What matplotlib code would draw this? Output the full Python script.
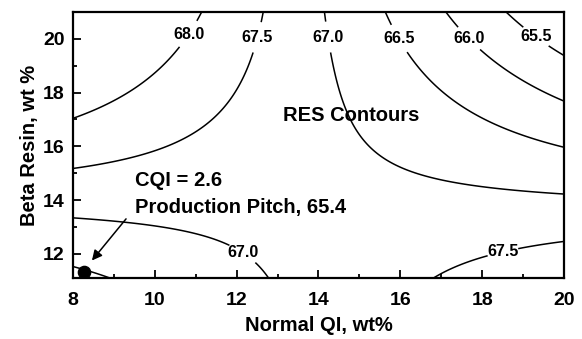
import numpy as np
import matplotlib
matplotlib.use("Agg")
import matplotlib.pyplot as plt
from matplotlib.ticker import MultipleLocator

plt.rcParams["font.family"] = ["Liberation Sans", "DejaVu Sans"]
plt.rcParams["font.weight"] = "bold"
plt.rcParams["axes.labelweight"] = "bold"

# RES response surface (quadratic), centred at QI = 14 wt%, beta resin = 16 wt%
# terms: 1, dQI, dBR, dQI^2, dBR^2, dQI*dBR
qi_center = 14.0
br_center = 16.0
res_coef = [67.1281, -0.10264, -0.01049, -0.00062, -0.00108, -0.04645]

res_levels = [65.5, 66.0, 66.5, 67.0, 67.5, 68.0]

# production pitch operating point
prod_qi = 8.27
prod_br = 11.34
prod_cqi = 2.6
prod_res = 65.4

qi = np.linspace(8, 20, 300)
br = np.linspace(11.1, 21.0, 300)
QI, BR = np.meshgrid(qi, br)
dq = QI - qi_center
db = BR - br_center
RES = (res_coef[0] + res_coef[1] * dq + res_coef[2] * db
       + res_coef[3] * dq ** 2 + res_coef[4] * db ** 2 + res_coef[5] * dq * db)

fig = plt.figure(figsize=(5.82, 3.39), dpi=100)
ax = fig.add_axes([0.1254, 0.18, 0.9691 - 0.1254, 0.9646 - 0.18])

cs = ax.contour(QI, BR, RES, levels=res_levels, colors="black", linewidths=1.1)
label_pos = [(11.1, 19.9), (12.52, 20.05), (14.16, 20.05), (15.9, 19.95),
             (17.6, 19.9), (19.2, 19.85), (12.16, 12.04), (18.51, 12.04)]
labels = ax.clabel(cs, fmt="%.1f", fontsize=11.5, inline=True, inline_spacing=0,
                   manual=label_pos)
for t in labels:
    t.set_rotation(0)

ax.plot(prod_qi, prod_br, "o", color="black", ms=8.8)
ax.annotate("", xy=(8.42, 11.67), xytext=(9.34, 13.38),
            arrowprops=dict(arrowstyle="-|>", color="black", lw=1.1,
                            mutation_scale=15))
ax.text(9.52, 14.72, f"CQI = {prod_cqi}", fontsize=14.5, va="center", ha="left")
ax.text(9.52, 13.72, f"Production Pitch, {prod_res}", fontsize=14.5,
        va="center", ha="left")
ax.text(13.13, 17.14, "RES Contours", fontsize=14.5, va="center", ha="left")

ax.set_xlim(8, 20)
ax.set_ylim(11.1, 21.0)
ax.xaxis.set_major_locator(MultipleLocator(2))
ax.xaxis.set_minor_locator(MultipleLocator(1))
ax.yaxis.set_major_locator(MultipleLocator(2))
ax.yaxis.set_minor_locator(MultipleLocator(1))
ax.set_yticks([12, 14, 16, 18, 20])
ax.tick_params(which="both", direction="in", width=1.3, labelsize=14)
ax.tick_params(which="major", length=6)
ax.tick_params(which="minor", length=3)
ax.tick_params(axis="x", pad=10)
ax.tick_params(axis="y", pad=6)
for s in ax.spines.values():
    s.set_linewidth(1.6)

ax.set_xlabel("Normal QI, wt%", fontsize=14.5, labelpad=5)
ax.set_ylabel("Beta Resin, wt %", fontsize=14.5, labelpad=3)

fig.savefig("out.png", dpi=100)
